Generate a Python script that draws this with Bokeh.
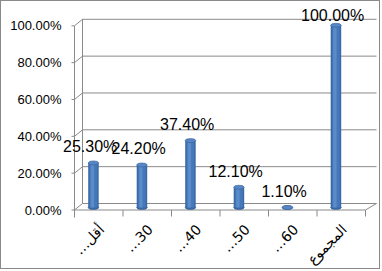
import math
from bokeh.plotting import figure
from bokeh.models import Range1d
from bokeh.core.properties import value
from bokeh.embed import file_html
from bokeh.resources import INLINE

# ---- data ----
categories = ["…أقل", "…30", "…40", "…50", "…60", "المجموع"]
values = [0.253, 0.242, 0.374, 0.121, 0.011, 1.0]
value_labels = ["25.30%", "24.20%", "37.40%", "12.10%", "1.10%", "100.00%"]
y_ticks = [0.0, 0.2, 0.4, 0.6, 0.8, 1.0]
y_tick_labels = ["0.00%", "20.00%", "40.00%", "60.00%", "80.00%", "100.00%"]

# ---- geometry (page pixels -> data units) ----
CW, CH = 380, 269          # canvas size (1px border around it)
ORIGIN_X = 74              # page x of front y-axis (x = 0)
ORIGIN_Y = 209.5           # page y of front floor (y = 0)
PX_X = 48.5                # pixels per category
PX_Y = 184.2               # pixels per 100 %
X_START = (1 - ORIGIN_X) / PX_X
X_END = (1 + CW - ORIGIN_X) / PX_X
Y_END = (ORIGIN_Y - 1) / PX_Y
Y_START = -(1 + CH - ORIGIN_Y) / PX_Y
X_WALL_END = (376 - ORIGIN_X) / PX_X
DX = 8 / PX_X          # depth offset (right)
DY = 6.5 / PX_Y        # depth offset (up)
W = 10.5 / PX_X        # cylinder width
EH = 4 / PX_Y          # ellipse height
BASE = 2.5 / PX_Y      # cylinder base above front floor
BAR_SHIFT = -5.3 / PX_X
LBL_SHIFT = -3.3 / PX_X
CAT_LBL_Y = -17 / PX_Y
GRID = "#8a8a8a"
FONT = "Liberation Sans"

n = len(categories)
p = figure(width=CW, height=CH,
           x_range=Range1d(X_START, X_END), y_range=Range1d(Y_START, Y_END),
           x_axis_location=None, y_axis_location=None,
           output_backend="svg", toolbar_location=None,
           min_border_left=0, min_border_right=0,
           min_border_top=0, min_border_bottom=0)
p.styles = {"border": "1px solid #8a8a8a"}
p.outline_line_color = None
p.xgrid.visible = False
p.ygrid.visible = False
p.background_fill_color = "white"
p.border_fill_color = "white"

m = len(y_ticks)
# back wall gridlines + diagonals
p.segment(x0=[DX] * m, x1=[X_WALL_END] * m,
          y0=[t + DY for t in y_ticks], y1=[t + DY for t in y_ticks],
          line_color=GRID, line_width=1)
p.segment(x0=[0] * m, x1=[DX] * m, y0=y_ticks, y1=[t + DY for t in y_ticks],
          line_color=GRID, line_width=1)
p.segment(x0=[DX], x1=[DX], y0=[DY], y1=[1 + DY], line_color=GRID, line_width=1)
# front value axis line and its ticks
p.segment(x0=[0], x1=[0], y0=[-7.5 / PX_Y], y1=[1.0], line_color=GRID, line_width=1)
p.segment(x0=[-3 / PX_X] * m, x1=[0] * m, y0=y_ticks, y1=y_ticks, line_color=GRID, line_width=1)
# floor front edge and right diagonal
p.segment(x0=[0], x1=[n], y0=[0], y1=[0], line_color=GRID, line_width=1)
p.segment(x0=[n], x1=[X_WALL_END], y0=[0], y1=[DY], line_color=GRID, line_width=1)
# category tick marks
p.segment(x0=list(range(n + 1)), x1=list(range(n + 1)),
          y0=[0] * (n + 1), y1=[-6.5 / PX_Y] * (n + 1), line_color=GRID, line_width=1)

# value-axis labels
p.text(x=[-13 / PX_X] * m, y=y_ticks, text=y_tick_labels,
       text_align="right", text_baseline="middle",
       text_font=value(FONT), text_font_size="13px", text_color="#000000")

# cylinders
bx = [i + 0.5 + BAR_SHIFT for i in range(n)]
tops = [v + BASE - EH / 2 for v in values]
p.ellipse(x=bx, y=[BASE] * n, width=W, height=EH, fill_color="#3A69A6", line_color="#345f96", line_width=0.6)
p.vbar(x=bx, width=W, bottom=BASE, top=tops, fill_color="#3A69A6", line_color=None)
p.vbar(x=bx, width=W * 0.72, bottom=BASE, top=tops, fill_color="#4677B8", line_color=None)
p.vbar(x=[b - W * 0.1 for b in bx], width=W * 0.32, bottom=BASE, top=tops, fill_color="#5A8BCB", line_color=None)
p.ellipse(x=bx, y=tops, width=W, height=EH, fill_color="#5686C6", line_color="#345f96", line_width=0.6)

# value labels
p.text(x=[b + LBL_SHIFT for b in bx],
       y=[min(v + BASE + 14 / PX_Y, 1.056) for v in values],
       text=value_labels, text_align="center", text_baseline="middle",
       text_font=value(FONT), text_font_size="16px", text_color="#000000")

# category labels (rotated)
p.text(x=[i + 0.5 + 3 / PX_X for i in range(n)], y=[CAT_LBL_Y] * n, text=categories,
       angle=math.pi / 4, text_align="right", text_baseline="middle",
       text_font=value("DejaVu Sans"), text_font_size="14px", text_color="#000000")

open("out.html", "w").write(file_html(p, INLINE))
